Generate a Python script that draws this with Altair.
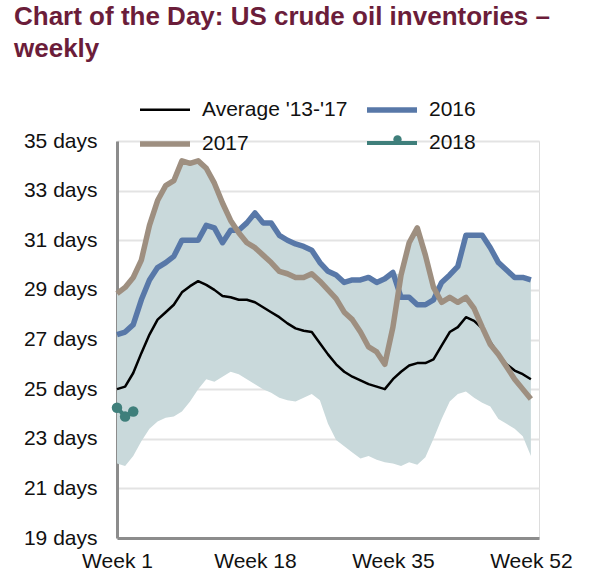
import altair as alt
import pandas as pd

# Weekly US crude oil inventories, expressed as days of supply
weeks = list(range(1, 53))

avg_13_17 = [25.0, 25.1, 25.65, 26.45, 27.2, 27.8, 28.1, 28.4, 28.9, 29.15,
             29.35, 29.2, 29.0, 28.75, 28.7, 28.6, 28.6, 28.5, 28.3, 28.1,
             27.9, 27.65, 27.45, 27.35, 27.3, 26.85, 26.4, 26.0, 25.7, 25.5,
             25.35, 25.2, 25.1, 25.0, 25.4, 25.7, 25.95, 26.05, 26.05, 26.2,
             26.75, 27.3, 27.5, 27.9, 27.75, 27.45, 26.9, 26.4, 26.0, 25.75,
             25.6, 25.4]

y2016 = [27.2, 27.3, 27.6, 28.6, 29.4, 29.9, 30.1, 30.35, 31.0, 31.0,
         31.0, 31.6, 31.5, 30.9, 31.4, 31.4, 31.7, 32.1, 31.7, 31.7,
         31.2, 31.0, 30.85, 30.75, 30.6, 30.1, 29.75, 29.6, 29.3, 29.4,
         29.4, 29.5, 29.3, 29.45, 29.7, 28.7, 28.7, 28.4, 28.4, 28.6,
         29.3, 29.6, 29.95, 31.2, 31.2, 31.2, 30.7, 30.1, 29.8, 29.5,
         29.5, 29.4]

y2017 = [28.85, 29.1, 29.5, 30.2, 31.6, 32.6, 33.2, 33.4, 34.2, 34.1,
         34.2, 33.9, 33.3, 32.5, 31.8, 31.3, 30.9, 30.7, 30.4, 30.1,
         29.75, 29.65, 29.5, 29.5, 29.65, 29.35, 29.0, 28.65, 28.1, 27.8,
         27.3, 26.7, 26.5, 26.0, 27.5, 29.6, 30.9, 31.5, 30.4, 29.1,
         28.5, 28.7, 28.5, 28.7, 28.25, 27.5, 26.8, 26.4, 25.9, 25.4,
         25.0, 24.6]

weeks_2018 = [1, 2, 3]
y2018 = [24.25, 23.9, 24.1]

# Five-year range (min / max) shaded behind the lines
range_lo = [22.0, 21.9, 22.3, 22.9, 23.4, 23.7, 23.85, 23.9, 24.1, 24.5,
            25.0, 25.4, 25.3, 25.5, 25.7, 25.6, 25.4, 25.2, 25.0, 24.85,
            24.65, 24.55, 24.5, 24.65, 24.8, 24.55, 23.6, 22.95, 22.7, 22.45,
            22.2, 22.3, 22.15, 22.05, 22.0, 21.9, 22.05, 21.95, 22.25, 23.0,
            23.8, 24.5, 24.8, 24.9, 24.65, 24.45, 24.3, 23.8, 23.6, 23.4,
            23.1, 22.3]

range_hi = [28.85, 29.1, 29.5, 30.2, 31.6, 32.6, 33.2, 33.4, 34.2, 34.1,
            34.2, 33.9, 33.3, 32.5, 31.8, 31.4, 31.7, 32.1, 31.7, 31.7,
            31.2, 31.0, 30.85, 30.75, 30.6, 30.1, 29.75, 29.6, 29.3, 29.4,
            29.4, 29.5, 29.3, 29.45, 29.7, 29.6, 30.9, 31.5, 30.4, 29.1,
            29.3, 29.6, 29.95, 31.2, 31.2, 31.2, 30.7, 30.1, 29.8, 29.5,
            29.5, 29.4]

# Legend is filled column by column: Average / 2017 on the left, 2016 / 2018 on the right
series_names = ["Average '13-'17", "2017", "2016", "2018"]
series_colors = ["#000000", "#9e8f80", "#5878a8", "#3f7f7b"]
series_widths = [2.5, 5.5, 5.5, 4]
line_order = ["Average '13-'17", "2016", "2017", "2018"]

y_ticks = [19, 21, 23, 25, 27, 29, 31, 33, 35]
x_ticks = [1, 18, 35, 52]

FONT = "Liberation Sans"
TEAL = "#3f7f7b"

rows = []
for name, vals, wks in [
    ("Average '13-'17", avg_13_17, weeks),
    ("2016", y2016, weeks),
    ("2017", y2017, weeks),
    ("2018", y2018, weeks_2018),
]:
    for w, v in zip(wks, vals):
        rows.append({"series": name, "week": w, "value": v,
                     "rank": line_order.index(name)})
lines_df = pd.DataFrame(rows)

band_df = pd.DataFrame({"week": weeks, "lo": range_lo, "hi": range_hi})
pts_df = pd.DataFrame({"week": weeks_2018, "value": y2018,
                       "marker": ["2018"] * len(y2018)})

x_scale = alt.Scale(domain=[1, 53], nice=False, zero=False)
y_scale = alt.Scale(domain=[19, 35], nice=False, zero=False)

x_axis = alt.Axis(values=x_ticks, labelExpr="'Week ' + datum.value", title=None,
                  grid=False, ticks=False, domainColor="#8c8c8c", domainWidth=3,
                  labelPadding=12, labelFlush=False, labelFontSize=21,
                  labelFont=FONT, labelColor="#111111")
y_axis = alt.Axis(values=y_ticks, labelExpr="datum.value + ' days'", title=None,
                  grid=True, gridColor="#e3e3e3", gridWidth=2, ticks=False,
                  domainColor="#8c8c8c", domainWidth=3, labelPadding=20,
                  labelFontSize=21, labelFont=FONT, labelColor="#111111")

band = alt.Chart(band_df).mark_area(color="#c9d9db", opacity=1).encode(
    x=alt.X("week:Q", scale=x_scale, axis=x_axis),
    y=alt.Y("lo:Q", scale=y_scale, axis=y_axis),
    y2="hi:Q",
)

legend = alt.Legend(
    title=None, orient="none", legendX=35, legendY=-44, columns=2,
    symbolType="M-2.5,0H2.5", symbolSize=400, labelOffset=24,
    columnPadding=8, rowPadding=10, padding=0,
    labelFontSize=21, labelFont=FONT, labelColor="#111111",
    labelLimit=300,
)

lines = alt.Chart(lines_df).mark_line(strokeCap="butt", strokeJoin="round").encode(
    x=alt.X("week:Q", scale=x_scale),
    y=alt.Y("value:Q", scale=y_scale),
    color=alt.Color("series:N", scale=alt.Scale(domain=series_names, range=series_colors),
                    legend=legend),
    strokeWidth=alt.StrokeWidth("series:N",
                                scale=alt.Scale(type="ordinal", domain=series_names,
                                                range=series_widths),
                                legend=legend),
    detail="rank:Q",
    order=alt.Order("week:Q"),
)

# 2018 markers; their own small legend puts the dot on the 2018 key line
dots = alt.Chart(pts_df).mark_point(filled=True, size=110, opacity=1, color=TEAL).encode(
    x=alt.X("week:Q", scale=x_scale),
    y=alt.Y("value:Q", scale=y_scale),
    shape=alt.Shape("marker:N", scale=alt.Scale(domain=["2018"], range=["circle"]),
                    legend=alt.Legend(title=None, orient="none", legendX=276, legendY=-6,
                                      padding=0, labelExpr="''", labelFontSize=1,
                                      symbolSize=70, symbolFillColor=TEAL,
                                      symbolStrokeColor=TEAL, symbolStrokeWidth=0)),
)

chart = alt.layer(band, lines, dots).properties(
    width=422,
    height=397,
    autosize=alt.AutoSizeParams(type="none"),
    padding={"left": 117, "top": 141, "right": 60, "bottom": 40},
    title=alt.TitleParams(
        text=["Chart of the Day: US crude oil inventories \u2013", "weekly"],
        anchor="start", frame="group", orient="top", offset=0,
        dx=-103, dy=-35, baseline="top", lineHeight=32,
        font=FONT, fontSize=26, fontWeight="bold", color="#6b1d3a",
    ),
).configure_view(stroke=None).configure(background="white")

chart.save("out.html", embed_options={"renderer": "svg", "actions": False})
